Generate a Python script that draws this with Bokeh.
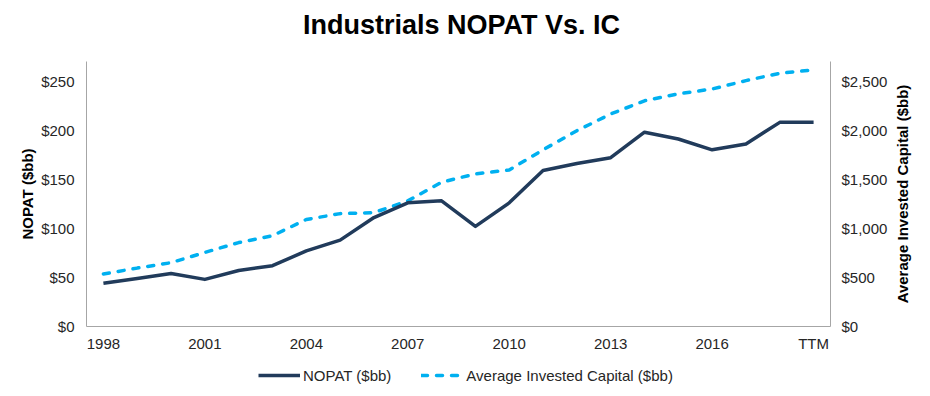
import math
from bokeh.plotting import figure
from bokeh.layouts import column, row
from bokeh.models import (Range1d, LinearAxis, FixedTicker, NumeralTickFormatter,
                          Legend, LegendItem, Label, ColumnDataSource)
from bokeh.embed import file_html
from bokeh.resources import INLINE

# ---- data ----
categories = ["1998", "1999", "2000", "2001", "2002", "2003", "2004", "2005", "2006",
              "2007", "2008", "2009", "2010", "2011", "2012", "2013", "2014", "2015",
              "2016", "2017", "2018", "TTM"]
nopat = [44, 49, 54, 48, 57, 62, 77, 88, 111, 126, 128, 102, 126, 159, 166, 172,
         198, 191, 180, 186, 208, 208]
invested_capital = [535, 595, 650, 755, 855, 925, 1090, 1150, 1160, 1280, 1470, 1555,
                    1595, 1800, 1995, 2165, 2300, 2370, 2420, 2505, 2580, 2615]
nopat_ticks = [0, 50, 100, 150, 200, 250]
ic_ticks = [0, 500, 1000, 1500, 2000, 2500]
x_tick_every = 3
title_text = "Industrials NOPAT Vs. IC"
series_names = ["NOPAT ($bb)", "Average Invested Capital ($bb)"]

FONT = "Liberation Sans"
NAVY = "#213B5B"
CYAN = "#00B0F0"
AXIS_GRAY = "#A6A6A6"
LABEL_COL = "#262626"
LW = 3.5
DASH = "6 9"

idx = list(range(len(categories)))
src = ColumnDataSource(dict(x=idx, nopat=nopat, ic=invested_capital))


def strip(w, h, xr=(0, 1)):
    f = figure(width=w, height=h, output_backend="svg", toolbar_location=None,
               x_axis_type=None, y_axis_type=None, min_border=0,
               x_range=Range1d(*xr), y_range=Range1d(0, 1))
    f.outline_line_color = None
    f.xgrid.visible = False
    f.ygrid.visible = False
    return f


TOTAL_W, TOTAL_H = 930, 396
TOP_H = 50
LEG_H = 40
MAIN_W = 891
MAIN_H = TOTAL_H - TOP_H - LEG_H

# ---- title strip ----
top = strip(TOTAL_W, TOP_H)
top.add_layout(Label(x=461, y=TOP_H - 24, x_units="screen", y_units="screen",
                     text=title_text, text_font=FONT, text_font_size="27px",
                     text_font_style="bold", text_color="black",
                     text_align="center", text_baseline="middle"))

# ---- main chart ----
p = figure(width=MAIN_W, height=MAIN_H, output_backend="svg", toolbar_location=None,
           x_range=Range1d(-0.5, len(categories) - 0.5), y_range=Range1d(0, 270),
           min_border_left=86, min_border_right=MAIN_W - 830,
           min_border_top=61 - TOP_H, min_border_bottom=MAIN_H - (326 - TOP_H))
p.extra_y_ranges = {"ic": Range1d(0, 2700)}
p.outline_line_color = None
p.xgrid.visible = False
p.ygrid.visible = False
p.background_fill_color = "white"
p.border_fill_color = "white"

# x axis
xt = idx[::x_tick_every]
p.xaxis.ticker = FixedTicker(ticks=xt)
p.xaxis.major_label_overrides = {i: categories[i] for i in xt}
p.xaxis.major_tick_out = 0
p.xaxis.major_tick_in = 0
p.xaxis.major_tick_line_color = None
p.xaxis.minor_tick_line_color = None
p.xaxis.axis_line_color = AXIS_GRAY
p.xaxis.major_label_standoff = 8
p.xaxis.major_label_text_font = FONT
p.xaxis.major_label_text_font_size = "15px"
p.xaxis.major_label_text_color = LABEL_COL

# left axis
ya = p.yaxis[0]
ya.ticker = FixedTicker(ticks=nopat_ticks)
ya.formatter = NumeralTickFormatter(format="$0,0")
ya.major_tick_out = 0
ya.major_tick_in = 0
ya.major_tick_line_color = None
ya.minor_tick_line_color = None
ya.axis_line_color = AXIS_GRAY
ya.major_label_standoff = 12
ya.major_label_text_font = FONT
ya.major_label_text_font_size = "15px"
ya.major_label_text_color = LABEL_COL
ya.axis_label = series_names[0]
ya.axis_label_text_font = FONT
ya.axis_label_text_font_size = "15px"
ya.axis_label_text_font_style = "bold"
ya.axis_label_text_color = "black"
ya.axis_label_standoff = 2

# right axis
ra = LinearAxis(y_range_name="ic", ticker=FixedTicker(ticks=ic_ticks),
                formatter=NumeralTickFormatter(format="$0,0"))
ra.major_tick_out = 0
ra.major_tick_in = 0
ra.major_tick_line_color = None
ra.minor_tick_line_color = None
ra.axis_line_color = AXIS_GRAY
ra.major_label_standoff = 11
ra.major_label_text_font = FONT
ra.major_label_text_font_size = "15px"
ra.major_label_text_color = LABEL_COL
p.add_layout(ra, "right")

# lines
p.line("x", "ic", source=src, y_range_name="ic", line_color=CYAN, line_width=LW,
       line_dash=DASH, line_cap="round")
p.line("x", "nopat", source=src, line_color=NAVY, line_width=LW, line_join="round")

# ---- right-hand axis title strip (reads bottom-to-top) ----
RT_W = TOTAL_W - MAIN_W
rt = strip(RT_W, MAIN_H)
rt.add_layout(Label(x=11, y=132.5, x_units="screen", y_units="screen",
                    text=series_names[1], text_font=FONT, text_font_size="15px",
                    text_font_style="bold", text_color="black", angle=math.pi / 2,
                    text_align="center", text_baseline="middle"))

# ---- legend strip (legend drawn from the same series, plotted out of view) ----
lg = strip(TOTAL_W, LEG_H, xr=(1000, 1001))
l_np = lg.line("x", "nopat", source=src, line_color=NAVY, line_width=LW)
l_ic = lg.line("x", "ic", source=src, line_color=CYAN, line_width=LW, line_dash=DASH,
               line_cap="round")
legend = Legend(items=[LegendItem(label=series_names[0], renderers=[l_np]),
                       LegendItem(label=series_names[1], renderers=[l_ic])],
                orientation="horizontal", location=(258, 12),
                glyph_width=42, glyph_height=18, label_height=18, label_standoff=3,
                spacing=30, padding=0, margin=0,
                border_line_color=None, background_fill_alpha=0,
                label_text_font=FONT, label_text_font_size="15px",
                label_text_color=LABEL_COL)
lg.add_layout(legend, "center")

layout = column(top, row(p, rt, spacing=0), lg, spacing=0)
open("out.html", "w").write(file_html(layout, INLINE))
